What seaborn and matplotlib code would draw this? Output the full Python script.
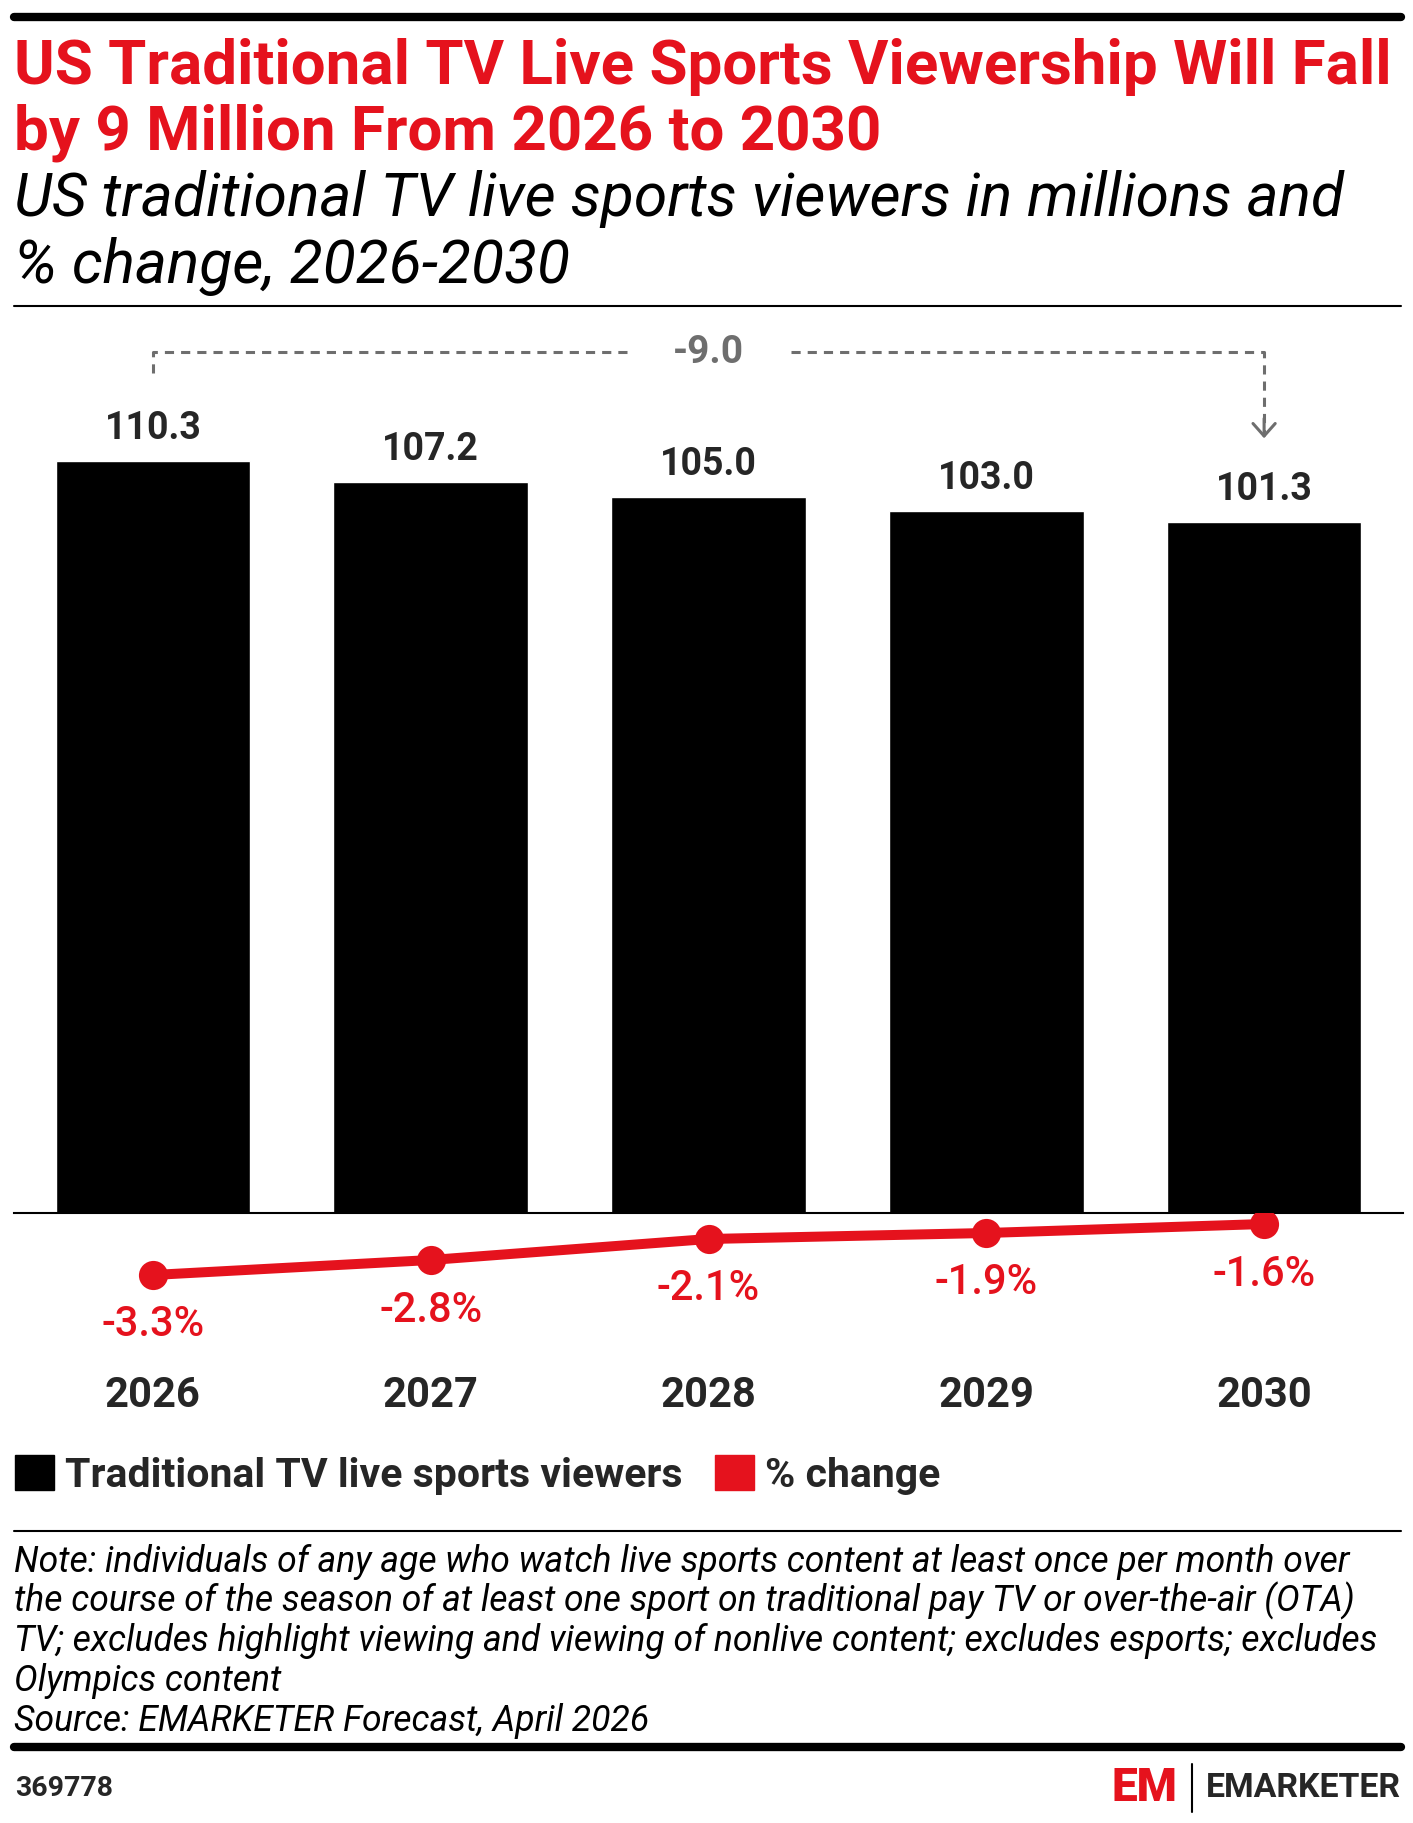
import numpy as np
import pandas as pd
import seaborn as sns
import matplotlib.pyplot as plt
from matplotlib.lines import Line2D
from matplotlib.patches import Patch

# данные с картинки
years = ['2026', '2027', '2028', '2029', '2030']
viewers = [110.3, 107.2, 105.0, 103.0, 101.3]
pct_change = [-3.3, -2.8, -2.1, -1.9, -1.6]

title_lines = ['US Traditional TV Live Sports Viewership Will Fall',
               'by 9 Million From 2026 to 2030']
subtitle_lines = ['US traditional TV live sports viewers in millions and',
                  '% change, 2026-2030']
legend_labels = ['Traditional TV live sports viewers', '% change']
note_lines = ['Note: individuals of any age who watch live sports content at least once per month over',
              'the course of the season of at least one sport on traditional pay TV or over-the-air (OTA)',
              'TV; excludes highlight viewing and viewing of nonlive content; excludes esports; excludes',
              'Olympics content',
              'Source: EMARKETER Forecast, April 2026']

RED = '#e5121d'
GRAY = '#6e6e6e'
W, H = 1413, 1823

sns.set_theme(style='white')
plt.rcParams['font.family'] = ['Roboto', 'DejaVu Sans']

df = pd.DataFrame({'year': years, 'viewers': viewers, 'pct': pct_change})

fig = plt.figure(figsize=(W / 100, H / 100), dpi=100)


def fx(px):
    return px / W


def fy(py):
    return 1 - py / H


# столбики
ax = fig.add_axes([fx(14), fy(1213), fx(1389), (1213 - 306) / H])
sns.barplot(data=df, x='year', y='viewers', color='black', saturation=1, width=0.7, ax=ax)
ax.set_xlim(-0.5, 4.5)
ax.set_ylim(0, 133)
ax.bar_label(ax.containers[0], fmt='%.1f', padding=10, fontsize=27, fontweight='bold')
ax.set(xticks=[], yticks=[], xlabel='', ylabel='')
sns.despine(ax=ax, left=True)
ax.spines['bottom'].set_color('black')
ax.spines['bottom'].set_linewidth(1.5)

# -9.0 стрелка
diff = viewers[0] - viewers[-1]
y_top = 126.2
dash_kw = dict(color=GRAY, lw=2.2, dashes=(3, 2.3))
ax.plot([0, 0, 1.714], [123.2, y_top, y_top], **dash_kw)
ax.plot([2.297, 4, 4], [y_top, y_top, 114.5], **dash_kw)
ax.text(2, y_top, f'-{diff:.1f}', ha='center', va='center', color=GRAY, fontsize=28, fontweight='bold')
ax.annotate('', xy=(4, 113.6), xytext=(4, 116.5),
            arrowprops=dict(arrowstyle='->,head_length=0.45,head_width=0.4', color=GRAY, lw=2.2,
                            mutation_scale=20, shrinkA=0, shrinkB=0))

# линия % изменения
ax2 = fig.add_axes([fx(14), fy(1372), fx(1389), (1372 - 1213) / H])
ax2.set_facecolor('none')
sns.lineplot(data=df, x='year', y='pct', color=RED, linewidth=7.2, marker='o',
             markersize=21, markeredgewidth=0, ax=ax2)
ax2.set_xlim(-0.5, 4.5)
ax2.set_ylim(-3.3 - (1372 - 1275) / 30, -3.3 + (1275 - 1213) / 30)
for i, v in enumerate(pct_change):
    ax2.annotate(f'{v:.1f}%', (i, v), xytext=(0, -36), textcoords='offset points',
                 ha='center', va='center', color=RED, fontsize=30, fontweight='medium')
ax2.set_xticks(range(len(years)), years)
ax2.tick_params(axis='x', length=0, pad=2, labelsize=30)
for lbl in ax2.get_xticklabels():
    lbl.set_fontweight('bold')
ax2.set(yticks=[], xlabel='', ylabel='')
sns.despine(ax=ax2, left=True, bottom=True)

# легенда
handles = [Patch(color='black'), Patch(color=RED)]
fig.legend(handles, legend_labels, loc='upper left', bbox_to_anchor=(fx(15), fy(1455)),
           ncol=2, frameon=False, prop={'weight': 'bold', 'size': 29.5},
           handlelength=0.95, handleheight=0.95, handletextpad=0.28, columnspacing=0.78,
           borderpad=0, borderaxespad=0)

# заголовки
for i, line in enumerate(title_lines):
    fig.text(fx(14), fy(84 + 65 * i), line, color=RED, fontsize=44.6, fontweight='bold', va='baseline')
for i, line in enumerate(subtitle_lines):
    fig.text(fx(14), fy(216 + 67 * i), line, color='black', fontsize=43.6, fontstyle='italic', va='baseline')
for i, line in enumerate(note_lines):
    fig.text(fx(14), fy(1572 + 39.7 * i), line, color='black', fontsize=25.6, fontstyle='italic', va='baseline')

# линейки
fig.add_artist(Line2D([fx(14), fx(1401)], [fy(16.5)] * 2, color='black', lw=6))
fig.add_artist(Line2D([fx(14), fx(1401)], [fy(306)] * 2, color='black', lw=1.5))
fig.add_artist(Line2D([fx(14), fx(1401)], [fy(1531)] * 2, color='black', lw=1.5))
fig.add_artist(Line2D([fx(14), fx(1401)], [fy(1747)] * 2, color='black', lw=6))

# подвал
fig.text(fx(15), fy(1788), '369778', fontsize=20.5, fontweight='bold', va='center')
fig.text(fx(1112), fy(1788), 'EM', color=RED, fontsize=33, fontweight='black', va='center')
fig.add_artist(Line2D([fx(1192), fx(1192)], [fy(1764), fy(1812)], color='black', lw=1.5))
fig.text(fx(1206), fy(1788), 'EMARKETER', fontsize=24.4, fontweight='bold', va='center')

fig.savefig('out.png', dpi=100)
